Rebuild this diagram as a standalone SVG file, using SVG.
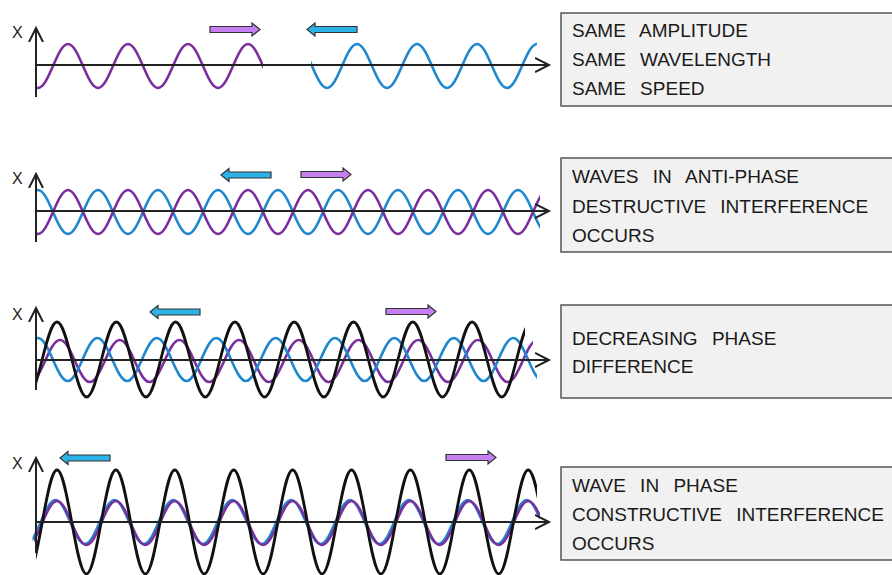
<svg xmlns="http://www.w3.org/2000/svg" width="892" height="575" viewBox="0 0 892 575">
<style>
.ax{fill:none;stroke:#222;stroke-width:2}
.w{fill:none;stroke-width:2.6;stroke-linejoin:round}
.pu{stroke:#7b2f9e}
.bl{stroke:#1f87cf}
.bk{stroke:#111;stroke-width:2.8}
.box{fill:#f1f1f1;stroke:#555;stroke-width:1.5}
.t{font-family:"Liberation Sans",Arial,sans-serif;font-size:19px;fill:#1a1a1a;word-spacing:9px}
.x{font-family:"Liberation Sans",Arial,sans-serif;font-size:16px;fill:#222}
.ap{fill:#c67ff0;stroke:#333;stroke-width:1.2}
.ab{fill:#2bb3e8;stroke:#333;stroke-width:1.2}
</style>
<defs>
<path id="arr" d="M0,-3 H42 V-6.5 L50,0 L42,6.5 V3 H0 Z"/>
<marker id="ah" markerWidth="18" markerHeight="18" refX="14" refY="8" orient="auto" markerUnits="userSpaceOnUse">
<path d="M0,1 L14,8 L0,15" fill="none" stroke="#222" stroke-width="2"/>
</marker>
<clipPath id="c1p"><rect x="36" y="0" width="227" height="140"/></clipPath>
<clipPath id="c1b"><rect x="311" y="0" width="240" height="140"/></clipPath>
<clipPath id="c2"><rect x="36" y="140" width="504" height="140"/></clipPath>
<clipPath id="c3b"><rect x="36" y="290" width="501" height="130"/></clipPath>
<clipPath id="c3p"><rect x="36" y="290" width="497" height="130"/></clipPath>
<clipPath id="c3k"><rect x="36" y="290" width="489" height="130"/></clipPath>
<clipPath id="c4k"><rect x="36" y="440" width="501" height="140"/></clipPath>
<clipPath id="c4"><rect x="34" y="440" width="506" height="140"/></clipPath>
</defs>
<rect width="892" height="575" fill="#fff"/>

<g id="panel1">
<path class="w pu" clip-path="url(#c1p)" d="M8,44 C18.9,44 27.1,88 38,88 S57.1,44 68,44 S87.1,88 98,88 S117.1,44 128,44 S147.1,88 158,88 S177.1,44 188,44 S207.1,88 218,88 S237.1,44 248,44 S267.1,88 278,88"/>
<path class="w bl" clip-path="url(#c1b)" d="M297,44 C307.9,44 316.1,88 327,88 S346.1,44 357,44 S376.1,88 387,88 S406.1,44 417,44 S436.1,88 447,88 S466.1,44 477,44 S496.1,88 507,88 S526.1,44 537,44"/>
<path class="ax" d="M36,97 V28" marker-end="url(#ah)"/>
<path class="ax" d="M36,65 H549" marker-end="url(#ah)"/>
<text class="x" x="12" y="38">X</text>
<use href="#arr" class="ap" transform="translate(210,29.5)"/>
<use href="#arr" class="ab" transform="translate(357,29.5) scale(-1,1)"/>
</g>
<g id="box1">
<rect class="box" x="561" y="13" width="340" height="93"/>
<text class="t" x="572" y="37">SAME AMPLITUDE</text>
<text class="t" x="572" y="66">SAME WAVELENGTH</text>
<text class="t" x="572" y="95">SAME SPEED</text>
</g>

<g id="panel2">
<path class="w bl" clip-path="url(#c2)" d="M8,234 C18.9,234 27.1,190 38,190 S57.1,234 68,234 S87.1,190 98,190 S117.1,234 128,234 S147.1,190 158,190 S177.1,234 188,234 S207.1,190 218,190 S237.1,234 248,234 S267.1,190 278,190 S297.1,234 308,234 S327.1,190 338,190 S357.1,234 368,234 S387.1,190 398,190 S417.1,234 428,234 S447.1,190 458,190 S477.1,234 488,234 S507.1,190 518,190 S537.1,234 548,234"/>
<path class="w pu" clip-path="url(#c2)" d="M8,190 C18.9,190 27.1,234 38,234 S57.1,190 68,190 S87.1,234 98,234 S117.1,190 128,190 S147.1,234 158,234 S177.1,190 188,190 S207.1,234 218,234 S237.1,190 248,190 S267.1,234 278,234 S297.1,190 308,190 S327.1,234 338,234 S357.1,190 368,190 S387.1,234 398,234 S417.1,190 428,190 S447.1,234 458,234 S477.1,190 488,190 S507.1,234 518,234 S537.1,190 548,190"/>
<path class="ax" d="M36,242 V174" marker-end="url(#ah)"/>
<path class="ax" d="M36,211 H549" marker-end="url(#ah)"/>
<text class="x" x="12" y="184">X</text>
<use href="#arr" class="ab" transform="translate(271,175) scale(-1,1)"/>
<use href="#arr" class="ap" transform="translate(301,174.5)"/>
</g>
<g id="box2">
<rect class="box" x="561" y="158" width="340" height="94"/>
<text class="t" x="572" y="183">WAVES IN ANTI-PHASE</text>
<text class="t" x="572" y="213">DESTRUCTIVE INTERFERENCE</text>
<text class="t" x="572" y="242">OCCURS</text>
</g>

<g id="panel3">
<path class="w pu" clip-path="url(#c3p)" d="M0.3,340 C11.2,340 19.25,382 30.15,382 S49.1,340 60,340 S78.95,382 89.85,382 S108.8,340 119.7,340 S138.65,382 149.55,382 S168.5,340 179.4,340 S198.35,382 209.25,382 S228.2,340 239.1,340 S258.05,382 268.95,382 S287.9,340 298.8,340 S317.75,382 328.65,382 S347.6,340 358.5,340 S377.45,382 388.35,382 S407.3,340 418.2,340 S437.15,382 448.05,382 S467,340 477.9,340 S496.85,382 507.75,382 S526.7,340 537.6,340"/>
<path class="w bl" clip-path="url(#c3b)" d="M8.3,381 C19.1,381 27.2,338 38,338 S56.9,381 67.7,381 S86.6,338 97.4,338 S116.3,381 127.1,381 S146,338 156.8,338 S175.7,381 186.5,381 S205.4,338 216.2,338 S235.1,381 245.9,381 S264.8,338 275.6,338 S294.5,381 305.3,381 S324.2,338 335,338 S353.9,381 364.7,381 S383.6,338 394.4,338 S413.3,381 424.1,381 S443,338 453.8,338 S472.7,381 483.5,381 S502.4,338 513.2,338 S532.1,381 542.9,381"/>
<path class="w bk" clip-path="url(#c3k)" d="M-2.3,322 C8.5,322 16.55,397 27.35,397 S46.2,322 57,322 S75.85,397 86.65,397 S105.5,322 116.3,322 S135.15,397 145.95,397 S164.8,322 175.6,322 S194.45,397 205.25,397 S224.1,322 234.9,322 S253.75,397 264.55,397 S283.4,322 294.2,322 S313.05,397 323.85,397 S342.7,322 353.5,322 S372.35,397 383.15,397 S402,322 412.8,322 S431.65,397 442.45,397 S461.3,322 472.1,322 S490.95,397 501.75,397 S520.6,322 531.4,322"/>
<path class="ax" d="M36,390 V308" marker-end="url(#ah)"/>
<path class="ax" d="M36,360 H549" marker-end="url(#ah)"/>
<text class="x" x="12" y="320">X</text>
<use href="#arr" class="ab" transform="translate(200,312) scale(-1,1)"/>
<use href="#arr" class="ap" transform="translate(386,311.5)"/>
</g>
<g id="box3">
<rect class="box" x="561" y="305" width="340" height="93"/>
<text class="t" x="572" y="345">DECREASING PHASE</text>
<text class="t" x="572" y="373">DIFFERENCE</text>
</g>

<g id="panel4">
<path class="w bl" clip-path="url(#c4)" transform="translate(-1.5,-1)" d="M-1.9,501 C8.8,501 16.85,545 27.55,545 S46.3,501 57,501 S75.75,545 86.45,545 S105.2,501 115.9,501 S134.65,545 145.35,545 S164.1,501 174.8,501 S193.55,545 204.25,545 S223,501 233.7,501 S252.45,545 263.15,545 S281.9,501 292.6,501 S311.35,545 322.05,545 S340.8,501 351.5,501 S370.25,545 380.95,545 S399.7,501 410.4,501 S429.15,545 439.85,545 S458.6,501 469.3,501 S488.05,545 498.75,545 S517.5,501 528.2,501 S546.95,545 557.65,545"/>
<path class="w pu" clip-path="url(#c4)" d="M-1.9,501 C8.8,501 16.85,545 27.55,545 S46.3,501 57,501 S75.75,545 86.45,545 S105.2,501 115.9,501 S134.65,545 145.35,545 S164.1,501 174.8,501 S193.55,545 204.25,545 S223,501 233.7,501 S252.45,545 263.15,545 S281.9,501 292.6,501 S311.35,545 322.05,545 S340.8,501 351.5,501 S370.25,545 380.95,545 S399.7,501 410.4,501 S429.15,545 439.85,545 S458.6,501 469.3,501 S488.05,545 498.75,545 S517.5,501 528.2,501 S546.95,545 557.65,545"/>
<path class="w bk" clip-path="url(#c4k)" d="M-1.9,470 C8.8,470 16.85,574 27.55,574 S46.3,470 57,470 S75.75,574 86.45,574 S105.2,470 115.9,470 S134.65,574 145.35,574 S164.1,470 174.8,470 S193.55,574 204.25,574 S223,470 233.7,470 S252.45,574 263.15,574 S281.9,470 292.6,470 S311.35,574 322.05,574 S340.8,470 351.5,470 S370.25,574 380.95,574 S399.7,470 410.4,470 S429.15,574 439.85,574 S458.6,470 469.3,470 S488.05,574 498.75,574 S517.5,470 528.2,470 S546.95,574 557.65,574"/>
<path class="ax" d="M36,553 V458" marker-end="url(#ah)"/>
<path class="ax" d="M36,522 H549" marker-end="url(#ah)"/>
<text class="x" x="12" y="469">X</text>
<use href="#arr" class="ab" transform="translate(110,458) scale(-1,1)"/>
<use href="#arr" class="ap" transform="translate(446,457.5)"/>
</g>
<g id="box4">
<rect class="box" x="561" y="467" width="340" height="93"/>
<text class="t" x="572" y="492">WAVE IN PHASE</text>
<text class="t" x="572" y="521">CONSTRUCTIVE INTERFERENCE</text>
<text class="t" x="572" y="550">OCCURS</text>
</g>
</svg>
